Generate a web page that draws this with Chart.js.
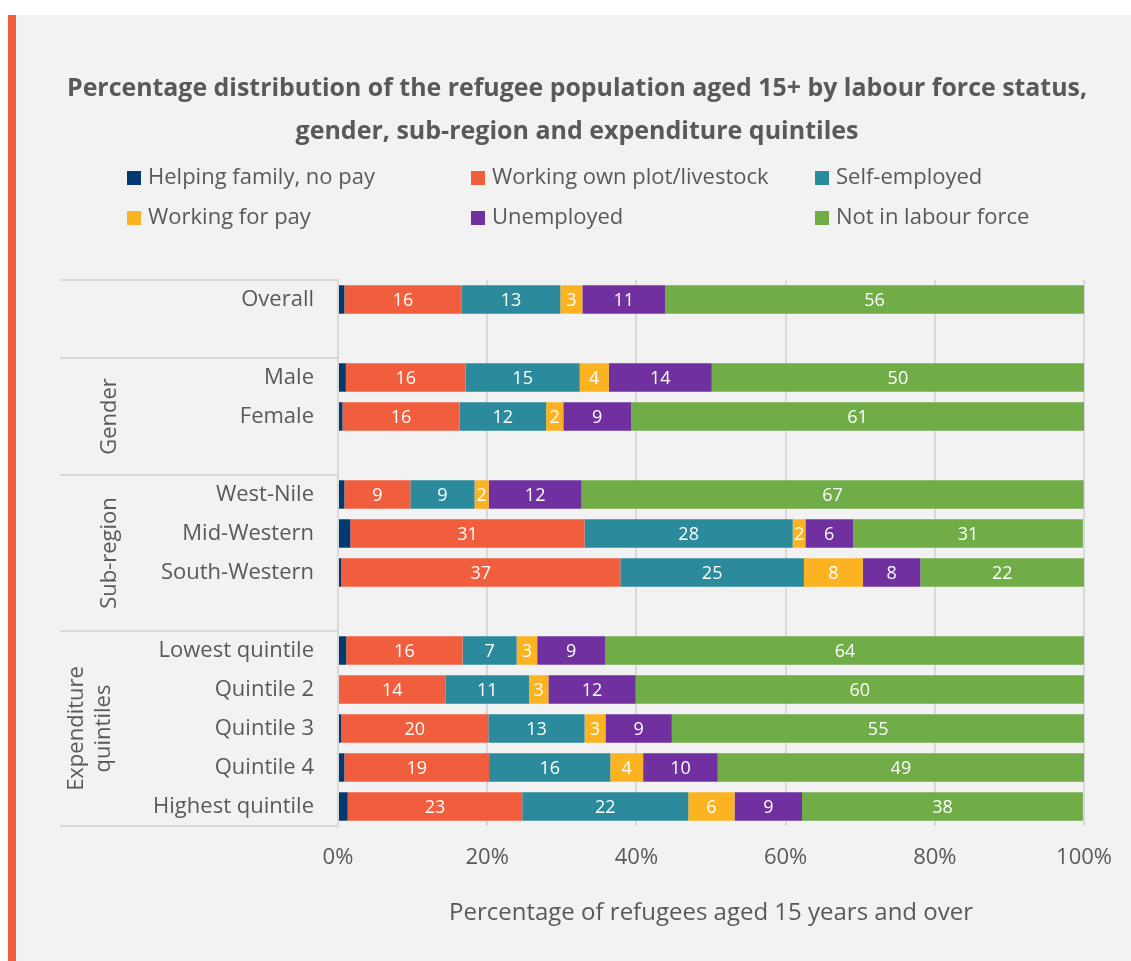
<!DOCTYPE html>
<html>
<head>
<meta charset="utf-8">
<script src="https://cdn.jsdelivr.net/npm/chart.js@4.4.0/dist/chart.umd.min.js"></script>
<style>
html,body{margin:0;padding:0;background:#fff;}
#panel{position:absolute;left:8px;top:15px;width:1115px;height:946px;border-left:8px solid #f15e3d;background:#f2f2f2;}
#wrap{position:absolute;left:0;top:0;width:1115px;height:946px;}
</style>
</head>
<body>
<div id="panel"><div id="wrap"><canvas id="chart"></canvas></div></div>
<script>
const FONT="'Open Sans', 'Noto Sans', sans-serif";
const GREY="#595959";

const titleLines=["Percentage distribution of the refugee population aged 15+ by labour force status,","gender, sub-region and expenditure quintiles"];
const xTitle="Percentage of refugees aged 15 years and over";

const categories=["Overall","","Male","Female","","West-Nile","Mid-Western","South-Western","","Lowest quintile","Quintile 2","Quintile 3","Quintile 4","Highest quintile"];
// group label, first row, last row (blank spacer row included)
const groups=[
{label:["Gender"],from:2,to:4},
{label:["Sub-region"],from:5,to:8},
{label:["Expenditure","quintiles"],from:9,to:13}
];
const separators=[0,2,5,9];

const seriesNames=["Helping family, no pay","Working own plot/livestock","Self-employed","Working for pay","Unemployed","Not in labour force"];
const seriesColors=["#003a70","#f15e3d","#2b8a9c","#fbb321","#7030a0","#70ad47"];

const helpingFamily=[0.85,null,1.05,0.6,null,0.85,1.65,0.45,null,1.1,0,0.45,0.85,1.3];
const ownPlot=[15.75,null,16.05,15.7,null,8.85,31.4,37.4,null,15.6,14.4,19.7,19.4,23.4];
const selfEmployed=[13.2,null,15.3,11.6,null,8.6,27.9,24.6,null,7.25,11.2,12.9,16.25,22.25];
const forPay=[2.95,null,3.9,2.3,null,1.9,1.7,7.9,null,2.75,2.6,2.8,4.4,6.2];
const unemployed=[11.1,null,13.8,9.1,null,12.45,6.4,7.7,null,9.1,11.7,8.9,10.0,9.05];
const notInLabour=[56.15,null,49.9,60.7,null,67.3,30.8,22.0,null,64.3,60.1,55.3,49.1,37.65];
const seriesValues=[helpingFamily,ownPlot,selfEmployed,forPay,unemployed,notInLabour];

const xTicks=[0,20,40,60,80,100];

const decor={
id:"decor",
afterDatasetsDraw(chart){
let ctx=chart.ctx;
ctx.save();
ctx.font="18px "+FONT;
ctx.fillStyle="#fff";
ctx.textAlign="center";
ctx.textBaseline="middle";
chart.data.datasets.forEach((ds,i)=>{
if(i===0)return;
chart.getDatasetMeta(i).data.forEach((bar,j)=>{
let v=ds.data[j];
if(v==null||v===0)return;
let p=bar.getProps(["x","y","base"],true);
ctx.fillText(Math.round(v),(p.x+p.base)/2,p.y+1);
});
});
ctx.restore();
},
afterDraw(chart){
let ctx=chart.ctx;
let y=chart.scales.y;
ctx.save();
// legend, three columns
ctx.font="22px "+FONT;
ctx.textBaseline="middle";
ctx.textAlign="left";
chart.data.datasets.forEach((ds,i)=>{
let cx=111+(i%3)*344;
let cy=163+Math.floor(i/3)*40;
ctx.fillStyle=ds.backgroundColor;
ctx.fillRect(cx,cy-7,14,14);
ctx.fillStyle=GREY;
ctx.fillText(ds.label,cx+21,cy);
});
// group labels, rotated
ctx.font="22px "+FONT;
ctx.textAlign="center";
groups.forEach(g=>{
let cy=(y.getPixelForValue(g.from)+y.getPixelForValue(g.to))/2;
let n=g.label.length;
g.label.forEach((t,k)=>{
let cx=n>1?61+k*27:94;
ctx.save();
ctx.translate(cx,cy);
ctx.rotate(-Math.PI/2);
ctx.fillText(t,0,0);
ctx.restore();
});
});
ctx.restore();
}
};

new Chart(document.getElementById("chart"),{
type:"bar",
data:{
labels:categories,
datasets:seriesNames.map((n,i)=>({
label:n,
data:seriesValues[i],
backgroundColor:seriesColors[i],
borderWidth:0,
barPercentage:0.73,
categoryPercentage:1
}))
},
options:{
indexAxis:"y",
responsive:true,
maintainAspectRatio:false,
animation:false,
layout:{padding:{left:51,right:44,top:0,bottom:0}},
plugins:{
legend:{display:false},
tooltip:{enabled:false},
title:{
display:true,
text:titleLines,
color:GREY,
font:{family:FONT,size:25,weight:"bold",lineHeight:"43px"},
padding:{top:52.5,bottom:126.5}
}
},
scales:{
x:{
stacked:true,
min:0,max:100,
afterBuildTicks(s){s.ticks=xTicks.map(v=>({value:v}));},
afterFit(s){s.height=135;},
grid:{color:"#d9d9d9",lineWidth:2,drawTicks:false},
border:{display:false},
ticks:{color:GREY,font:{family:FONT,size:22},padding:19,callback:v=>v+"%"},
title:{display:true,text:xTitle,color:GREY,font:{family:FONT,size:24},padding:{top:0,bottom:33}}
},
y:{
stacked:true,
afterFit(s){s.width=271;},
grid:{
offset:true,
drawOnChartArea:false,
drawTicks:true,
tickLength:278,
lineWidth:2,
color:ctx=>(ctx.index===undefined||separators.includes(ctx.index))?"#d9d9d9":"rgba(0,0,0,0)"
},
border:{display:true,color:"#d9d9d9",width:2},
ticks:{color:GREY,font:{family:FONT,size:22},padding:-254,autoSkip:false}
}
}
},
plugins:[decor]
});
</script>
</body>
</html>
